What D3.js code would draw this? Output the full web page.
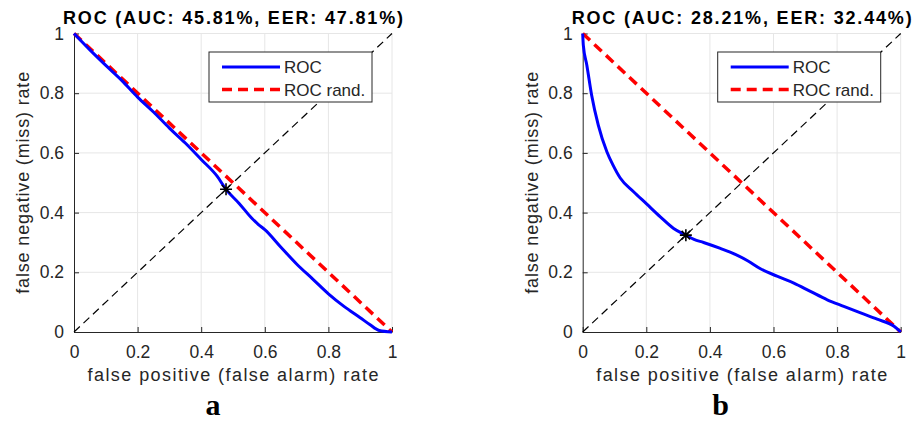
<!DOCTYPE html>
<html>
<head>
<meta charset="utf-8">
<script src="https://cdn.jsdelivr.net/npm/d3@7"></script>
<style>
  body { margin: 0; background: #fff; }
  text { font-family: Arial, "Liberation Sans", sans-serif; }
</style>
</head>
<body>
<script>
// data
var titles = ["ROC (AUC: 45.81%, EER: 47.81%)", "ROC (AUC: 28.21%, EER: 32.44%)"];
var letters = ["a", "b"];
var eer = [0.4781, 0.3244];
var legendLabels = ["ROC", "ROC rand."];
var tickValues = [0, 0.2, 0.4, 0.6, 0.8, 1];
var xLabel = "false positive (false alarm) rate";
var yLabel = "false negative (miss) rate";

var rocA_fpr = [0, 0.05, 0.1, 0.15, 0.2, 0.25, 0.3, 0.35, 0.4, 0.45, 0.478, 0.52, 0.56, 0.58, 0.6, 0.65, 0.7, 0.75, 0.8, 0.85, 0.9, 0.93, 0.96, 1];
var rocA_fnr = [1, 0.945, 0.893, 0.843, 0.787, 0.737, 0.683, 0.633, 0.578, 0.522, 0.478, 0.43, 0.38, 0.36, 0.343, 0.285, 0.228, 0.178, 0.128, 0.085, 0.048, 0.025, 0.005, 0];

var rocB_fpr = [0, 0.002, 0.013, 0.028, 0.049, 0.076, 0.095, 0.118, 0.16, 0.2, 0.244, 0.286, 0.3244, 0.35, 0.38, 0.433, 0.48, 0.52, 0.559, 0.611, 0.664, 0.716, 0.769, 0.821, 0.874, 0.926, 0.979, 1];
var rocB_fnr = [1, 0.96, 0.894, 0.794, 0.693, 0.604, 0.56, 0.516, 0.47, 0.43, 0.386, 0.347, 0.3244, 0.31, 0.3, 0.28, 0.26, 0.238, 0.212, 0.187, 0.164, 0.136, 0.108, 0.086, 0.064, 0.043, 0.019, 0];

var rocFpr = [rocA_fpr, rocB_fpr];
var rocFnr = [rocA_fnr, rocB_fnr];

var width = 913, height = 424;
var panelLeft = [74, 582.7];
var plotW = 318, plotTop = 33.5, plotBottom = 332;
var axisColor = "#262626";

var svg = d3.select("body").append("svg")
    .attr("width", width)
    .attr("height", height);

titles.forEach(function(title, p){
    var x = d3.scaleLinear().domain([0, 1]).range([panelLeft[p], panelLeft[p] + plotW]);
    var y = d3.scaleLinear().domain([0, 1]).range([plotBottom, plotTop]);
    var g = svg.append("g");

    //grid lines
    g.selectAll(".gx").data(tickValues.slice(1)).enter().append("line")
        .attr("x1", function(d){ return x(d); }).attr("x2", function(d){ return x(d); })
        .attr("y1", y(0)).attr("y2", y(1))
        .attr("stroke", "#e6e6e6").attr("stroke-width", 1);
    g.selectAll(".gy").data(tickValues.slice(1)).enter().append("line")
        .attr("y1", function(d){ return y(d); }).attr("y2", function(d){ return y(d); })
        .attr("x1", x(0)).attr("x2", x(1))
        .attr("stroke", "#e6e6e6").attr("stroke-width", 1);

    //axes, ticks pointing inwards
    var xAxis = g.append("g").attr("transform", "translate(0," + y(0) + ")")
        .call(d3.axisBottom(x).tickValues(tickValues).tickFormat(d3.format("")).tickSizeInner(-5).tickSizeOuter(0).tickPadding(14));
    var yAxis = g.append("g").attr("transform", "translate(" + x(0) + ",0)")
        .call(d3.axisLeft(y).tickValues(tickValues).tickFormat(d3.format("")).tickSizeInner(-5).tickSizeOuter(0).tickPadding(10));
    [xAxis, yAxis].forEach(function(a){
        a.select(".domain").attr("stroke", axisColor);
        a.selectAll(".tick line").attr("stroke", axisColor);
        a.selectAll(".tick text").attr("fill", axisColor)
            .style("font-size", "17.5px").style("font-family", "Arial, 'Liberation Sans', sans-serif");
    });

    //diagonal (EER line)
    g.append("line")
        .attr("x1", x(0)).attr("y1", y(0)).attr("x2", x(1)).attr("y2", y(1))
        .attr("stroke", "#000").attr("stroke-width", 1.2).attr("stroke-dasharray", "8,5");

    //random ROC
    g.append("line")
        .attr("x1", x(0)).attr("y1", y(1)).attr("x2", x(1)).attr("y2", y(0))
        .attr("stroke", "#ff0000").attr("stroke-width", 3.5).attr("stroke-dasharray", "10,6");

    //ROC curve
    var line = d3.line()
        .x(function(d){ return x(d[0]); })
        .y(function(d){ return y(d[1]); })
        .curve(d3.curveMonotoneX);
    g.append("path")
        .datum(d3.zip(rocFpr[p], rocFnr[p]))
        .attr("d", line)
        .attr("fill", "none")
        .attr("stroke", "#0000ff")
        .attr("stroke-width", 3)
        .attr("stroke-linejoin", "round");

    //EER marker (asterisk)
    var r = 6, mx = x(eer[p]), my = y(eer[p]), k = r * 0.7071;
    g.append("path")
        .attr("d", "M" + (mx - r) + "," + my + "H" + (mx + r) +
                   "M" + mx + "," + (my - r) + "V" + (my + r) +
                   "M" + (mx - k) + "," + (my - k) + "L" + (mx + k) + "," + (my + k) +
                   "M" + (mx - k) + "," + (my + k) + "L" + (mx + k) + "," + (my - k))
        .attr("stroke", "#000").attr("stroke-width", 1.6).attr("fill", "none");

    //legend
    var lx = x(0) + 135, ly = 52;
    g.append("rect")
        .attr("x", lx).attr("y", ly).attr("width", 163).attr("height", 50)
        .attr("fill", "#fff").attr("stroke", axisColor).attr("stroke-width", 1);
    var legStyles = [
        {color: "#0000ff", dash: null, w: 3},
        {color: "#ff0000", dash: "10,6", w: 3.5}
    ];
    legendLabels.forEach(function(lab, i){
        var yy = ly + 15 + i * 22.5;
        g.append("line")
            .attr("x1", lx + 13).attr("x2", lx + 71).attr("y1", yy).attr("y2", yy)
            .attr("stroke", legStyles[i].color).attr("stroke-width", legStyles[i].w)
            .attr("stroke-dasharray", legStyles[i].dash);
        g.append("text")
            .attr("x", lx + 75).attr("y", yy + 6)
            .attr("fill", axisColor)
            .style("font-size", "17px")
            .text(lab);
    });

    //title
    g.append("text")
        .attr("x", x(0.5)).attr("y", 24)
        .attr("text-anchor", "middle")
        .attr("textLength", 340).attr("lengthAdjust", "spacing")
        .attr("fill", "#000")
        .style("font-size", "18px").style("font-weight", "bold")
        .text(title);

    //axis labels
    g.append("text")
        .attr("x", x(0.5)).attr("y", 381)
        .attr("text-anchor", "middle")
        .attr("textLength", 291).attr("lengthAdjust", "spacing")
        .attr("fill", axisColor)
        .style("font-size", "18px")
        .text(xLabel);
    g.append("text")
        .attr("transform", "translate(" + (x(0) - 45) + "," + y(0.5) + ") rotate(-90)")
        .attr("text-anchor", "middle")
        .attr("textLength", 222).attr("lengthAdjust", "spacing")
        .attr("fill", axisColor)
        .style("font-size", "18px")
        .text(yLabel);

    //panel letter
    g.append("text")
        .attr("x", x(0.5) - (p === 0 ? 20 : 21)).attr("y", 415)
        .attr("text-anchor", "middle")
        .attr("fill", "#000")
        .style("font-family", "'Liberation Serif', 'Times New Roman', serif")
        .style("font-size", "30px").style("font-weight", "bold")
        .text(letters[p]);
});
</script>
</body>
</html>
